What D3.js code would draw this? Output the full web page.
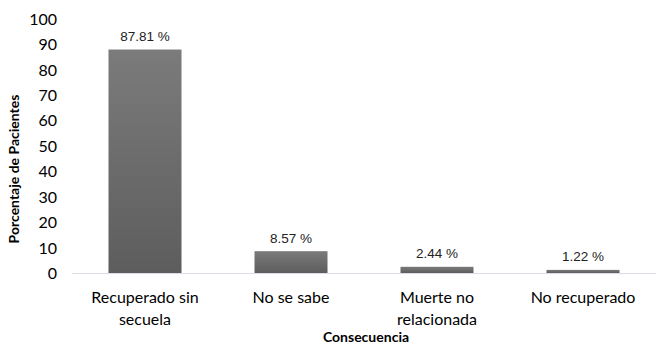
<!DOCTYPE html>
<html>
<head>
<meta charset="utf-8">
<script src="https://cdn.jsdelivr.net/npm/d3@7"></script>
<style>
  html, body { margin: 0; padding: 0; background: #fff; }
  svg { display: block; }
</style>
</head>
<body>
<svg id="chart" width="656" height="344"></svg>
<script>
// Outcome categories and their share of patients (%)
const categories = [["Recuperado sin", "secuela"], ["No se sabe"], ["Muerte no", "relacionada"], ["No recuperado"]];
const values = [87.81, 8.57, 2.44, 1.22];
const yTicks = [0, 10, 20, 30, 40, 50, 60, 70, 80, 90, 100];
const yTitle = "Porcentaje de Pacientes";
const xTitle = "Consecuencia";

const svg = d3.select("#chart");
const plotLeft = 72, plotRight = 656, plotTop = 18.5, plotBottom = 273;

const keys = categories.map(c => c.join(" "));
const x = d3.scaleBand().domain(keys).range([plotLeft, plotRight]).paddingInner(0.5).paddingOuter(0.25);
const y = d3.scaleLinear().domain([0, 100]).range([plotBottom, plotTop]);

// vertical gradient for the bars
const defs = svg.append("defs");
const grad = defs.append("linearGradient").attr("id", "barGrad")
  .attr("x1", 0).attr("y1", 0).attr("x2", 0).attr("y2", 1);
grad.append("stop").attr("offset", "0%").attr("stop-color", "#7b7b7b");
grad.append("stop").attr("offset", "100%").attr("stop-color", "#5d5d5d");

// y axis (labels only)
const yAxis = d3.axisLeft(y).tickValues(yTicks).tickSize(0).tickPadding(0);
const gy = svg.append("g").attr("transform", `translate(${plotLeft - 15},0)`).call(yAxis);
gy.select(".domain").remove();
gy.selectAll("text")
  .attr("font-family", "Lato, 'Open Sans', sans-serif")
  .attr("font-size", 16).attr("fill", "#000").attr("dy", "0.35em");

// bars
svg.append("g").selectAll("rect").data(values).join("rect")
  .attr("x", (d, i) => x(keys[i]))
  .attr("y", d => y(d))
  .attr("width", x.bandwidth())
  .attr("height", d => y(0) - y(d))
  .attr("fill", "url(#barGrad)");

// baseline
svg.append("line")
  .attr("x1", plotLeft).attr("x2", plotRight)
  .attr("y1", y(0) + 0.5).attr("y2", y(0) + 0.5)
  .attr("stroke", "#d9dee6").attr("stroke-width", 1);

// value labels
svg.append("g").selectAll("text").data(values).join("text")
  .attr("x", (d, i) => x(keys[i]) + x.bandwidth() / 2)
  .attr("y", d => y(d) - 8.5)
  .attr("text-anchor", "middle")
  .attr("font-family", "'Liberation Sans', Arial, sans-serif")
  .attr("font-size", 13.5).attr("fill", "#222")
  .text(d => d.toFixed(2) + " %");

// category labels
const cat = svg.append("g").selectAll("text").data(categories).join("text")
  .attr("x", (d, i) => x(keys[i]) + x.bandwidth() / 2)
  .attr("y", 303)
  .attr("text-anchor", "middle")
  .attr("font-family", "Lato, 'Open Sans', sans-serif")
  .attr("font-size", 16).attr("fill", "#000");
cat.selectAll("tspan").data(d => d).join("tspan")
  .attr("x", function () { return this.parentNode.getAttribute("x"); })
  .attr("dy", (d, i) => i === 0 ? 0 : 22)
  .text(d => d);

// axis titles
svg.append("text")
  .attr("transform", "translate(19,169) rotate(-90)")
  .attr("text-anchor", "middle")
  .attr("font-family", "Lato, 'Open Sans', sans-serif")
  .attr("font-weight", "bold").attr("font-size", 14).attr("fill", "#000")
  .text(yTitle);

svg.append("text")
  .attr("x", 366).attr("y", 342)
  .attr("text-anchor", "middle")
  .attr("font-family", "Lato, 'Open Sans', sans-serif")
  .attr("font-weight", "bold").attr("font-size", 14).attr("fill", "#000")
  .text(xTitle);
</script>
</body>
</html>
